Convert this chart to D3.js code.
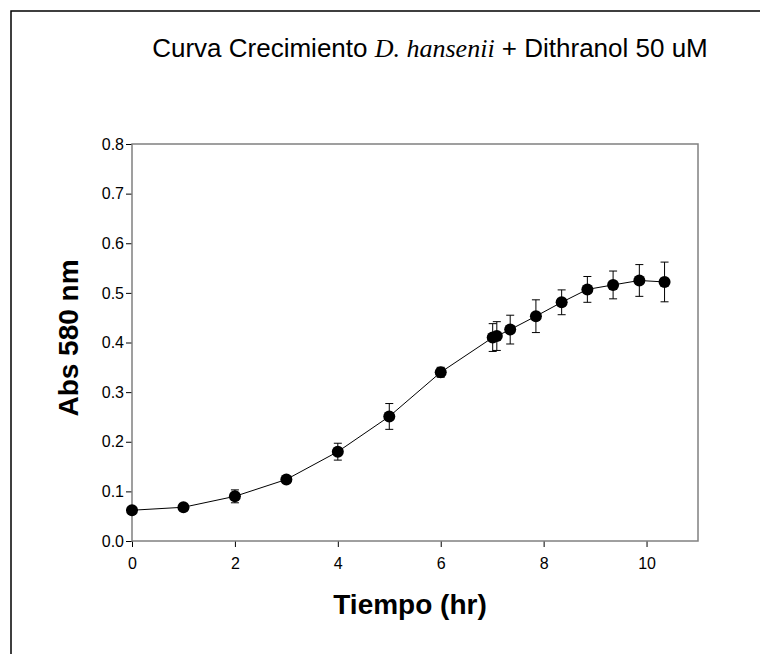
<!DOCTYPE html>
<html>
<head>
<meta charset="utf-8">
<script src="https://cdn.jsdelivr.net/npm/d3@7"></script>
<style>
    body { margin: 0; background: #fff; }
    svg { display: block; font-family: "Liberation Sans", Arial, sans-serif; }
    .frame { fill: none; stroke: #000; stroke-width: 1.5; }
    .plotbox { fill: none; stroke: #808080; stroke-width: 1.5; }
    .axis path { display: none; }
    .axis line { stroke: #000; }
    .title { font-size: 26px; }
    .title .species { font-family: "Liberation Serif", "Times New Roman", serif; font-style: italic; }
    .axtitle { font-size: 28px; font-weight: bold; }
    .curve { fill: none; stroke: #000; stroke-width: 1; }
    .err { stroke: #000; stroke-width: 1; }
    .dot { fill: #000; }
</style>
</head>
<body>
<svg id="chart" width="760" height="654"></svg>
<script>
    // tiempo (hr), absorbancia y desviacion
    const tiempo = [0, 1, 2, 3, 4, 5, 6, 7.01, 7.09, 7.35, 7.85, 8.35, 8.85, 9.35, 9.86, 10.35];
    const abs580 = [0.062, 0.068, 0.090, 0.124, 0.180, 0.251, 0.340, 0.410, 0.413, 0.426, 0.453, 0.481, 0.507, 0.516, 0.525, 0.522];
    const errAbs = [0.004, 0.005, 0.013, 0.006, 0.017, 0.026, 0.010, 0.028, 0.029, 0.029, 0.033, 0.025, 0.026, 0.028, 0.032, 0.040];
    const xTicks = [0, 2, 4, 6, 8, 10];
    const yTicks = [0.0, 0.1, 0.2, 0.3, 0.4, 0.5, 0.6, 0.7, 0.8];

    const data = tiempo.map((t, i) => ({t: t, v: abs580[i], e: errAbs[i]}));

    const margin = {top: 144, right: 62, bottom: 113, left: 132};
    const width = 760 - margin.left - margin.right;
    const height = 654 - margin.top - margin.bottom;

    const svg = d3.select('#chart');

    // outer frame (runs off the right and bottom edges)
    svg.append('rect').attr('class', 'frame')
        .attr('x', 11).attr('y', 11).attr('width', 800).attr('height', 700);

    const title = svg.append('text').attr('class', 'title')
        .attr('x', 430).attr('y', 57).attr('text-anchor', 'middle');
    title.append('tspan').text('Curva Crecimiento ');
    title.append('tspan').attr('class', 'species').text('D. hansenii');
    title.append('tspan').text(' + Dithranol 50 uM');

    const chart = svg.append('g').attr('transform', 'translate(' + margin.left + ',' + margin.top + ')');

    const x = d3.scaleLinear().domain([0, 11]).range([0, width]);
    const y = d3.scaleLinear().domain([0, 0.8]).range([height, 0]);

    chart.append('g').attr('class', 'x axis')
        .attr('transform', 'translate(0,' + height + ')')
        .call(d3.axisBottom(x).tickValues(xTicks).tickSize(6).tickPadding(11).tickFormat(d3.format('d')));
    chart.append('g').attr('class', 'y axis')
        .call(d3.axisLeft(y).tickValues(yTicks).tickSize(6).tickPadding(2).tickFormat(d3.format('.1f')));

    chart.selectAll('.axis')
        .attr('font-size', null).attr('font-family', null);
    chart.selectAll('.axis text')
        .style('font-size', '16px').style('font-family', '"Liberation Sans", Arial, sans-serif').style('fill', '#000');

    chart.append('rect').attr('class', 'plotbox')
        .attr('x', 0).attr('y', 0).attr('width', width).attr('height', height);

    chart.append('path').datum(data).attr('class', 'curve')
        .attr('d', d3.line().x(d => x(d.t)).y(d => y(d.v)));

    const errs = chart.selectAll('g.errbar').data(data).enter().append('g').attr('class', 'errbar');
    errs.append('line').attr('class', 'err')
        .attr('x1', d => x(d.t)).attr('x2', d => x(d.t))
        .attr('y1', d => y(d.v - d.e)).attr('y2', d => y(d.v + d.e));
    errs.append('line').attr('class', 'err')
        .attr('x1', d => x(d.t) - 4).attr('x2', d => x(d.t) + 4)
        .attr('y1', d => y(d.v + d.e)).attr('y2', d => y(d.v + d.e));
    errs.append('line').attr('class', 'err')
        .attr('x1', d => x(d.t) - 4).attr('x2', d => x(d.t) + 4)
        .attr('y1', d => y(d.v - d.e)).attr('y2', d => y(d.v - d.e));

    chart.selectAll('circle.dot').data(data).enter().append('circle')
        .attr('class', 'dot').attr('r', 6)
        .attr('cx', d => x(d.t)).attr('cy', d => y(d.v));

    chart.append('text').attr('class', 'axtitle')
        .attr('x', 410 - margin.left).attr('y', height + 73).attr('text-anchor', 'middle')
        .text('Tiempo (hr)');
    chart.append('text').attr('class', 'axtitle')
        .attr('transform', 'translate(-54,' + (338 - margin.top) + ') rotate(-90)')
        .attr('text-anchor', 'middle')
        .text('Abs 580 nm');
</script>
</body>
</html>
